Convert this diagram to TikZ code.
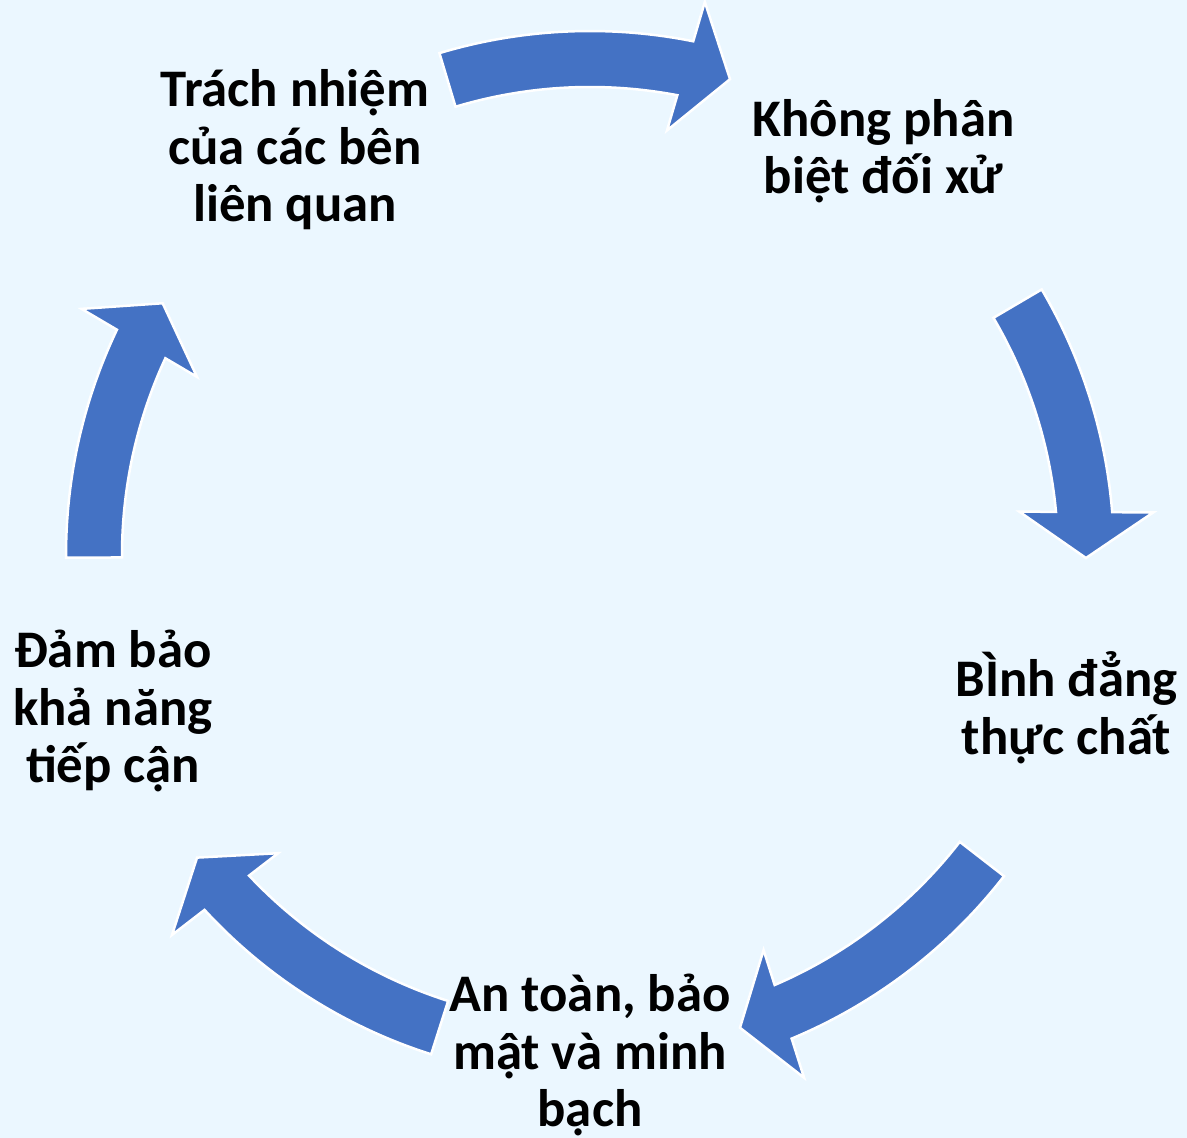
\documentclass[tikz,border=0pt]{standalone}
\usepackage{fontspec}
\setmainfont{Carlito}
\definecolor{bgblue}{RGB}{235,247,255}
\definecolor{arrowblue}{HTML}{4472C4}
\newcommand\linesstack[1]{\vtop{\lineskiplimit=-1000pt\baselineskip=57.5pt\halign{\hfil##\hfil\cr#1\crcr}}}
% #2 tail angle, #3 tip angle (clockwise arrow around C)
\newcommand\cyclearrowpath[3]{%
  \path[cyclearrow] (#2:524) arc[start angle=#2, end angle=#3+5.036, radius=524]
    -- (#3+4.671:564.9) -- (#3:496) -- (#3+6.12:431.5) -- (#3+5.641:468)
    arc[start angle=#3+5.641, end angle=#2, radius=468] -- cycle;}
\tikzset{
  cyclearrow/.style={fill=arrowblue, draw=white, line width=2.5, line join=miter},
  label/.style={font=\fontsize{52.8}{57.5}\selectfont\bfseries, text=black, inner sep=0, anchor=base}
}
\begin{document}
\begin{tikzpicture}[x=1pt,y=1pt]
\useasboundingbox (0,0) rectangle (1187,1138);
\fill[bgblue] (0,0) rectangle (1187,1138);
\coordinate (C) at (590,583);
\begin{scope}[shift={(C)}]
  \cyclearrowpath{a1}{106.7}{73.6}
  \cyclearrowpath{a2}{30.45}{-0.35}
  \cyclearrowpath{a3}{-37.8}{-72.4}
  \cyclearrowpath{a4}{-107.65}{-142.4}
  \cyclearrowpath{a5}{180.3}{149.5}
\end{scope}
\node[label] (n1) at (295,1031) {\linesstack{Trách nhiệm\cr của các bên\cr liên quan}};
\node[label] (n2) at (883.5,1001.5) {\linesstack{Không phân\cr biệt đối xử}};
\node[label] (n3) at (1066.5,441) {\linesstack{BÌnh đẳng\cr thực chất}};
\node[label] (n4) at (590,126) {\linesstack{An toàn, bảo\cr mật và minh\cr bạch}};
\node[label] (n5) at (113,470) {\linesstack{Đảm bảo\cr khả năng\cr tiếp cận}};
\end{tikzpicture}
\end{document}
